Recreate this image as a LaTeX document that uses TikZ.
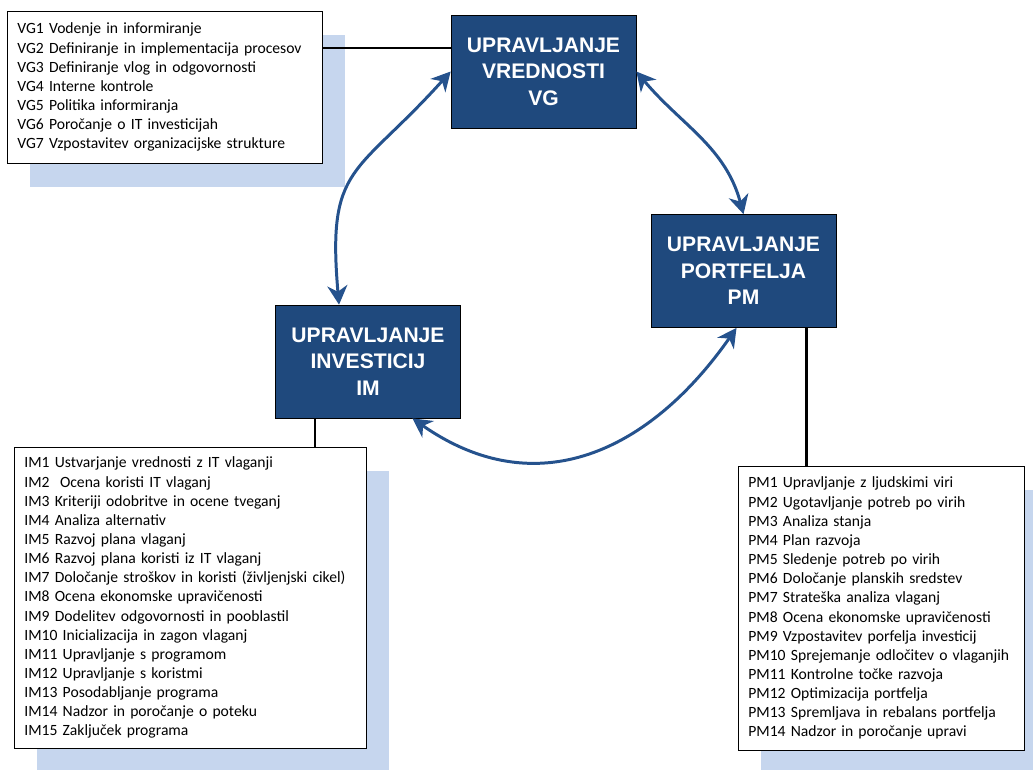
\documentclass[tikz,border=0pt]{standalone}
\usepackage{fontspec}
\setmainfont{Carlito}
\newfontfamily\boxfont{Liberation Sans}
\usepackage{tikz}
\usetikzlibrary{arrows.meta}
\usetikzlibrary{shadows}
\definecolor{boxblue}{RGB}{31,73,125}
\definecolor{arrowblue}{RGB}{37,82,141}
\definecolor{shadowblue}{RGB}{198,214,238}
\tikzset{phase/.style={draw=black, fill=boxblue, text=white, align=center,
    minimum width=3.7cm, minimum height=2.26cm, inner sep=0pt,
    font=\boxfont\bfseries\fontsize{12}{15}\selectfont}}
\tikzset{list/.style={draw=black, fill=white, align=left, anchor=north west,
    inner xsep=0.2cm, inner ysep=0pt, font=\fontsize{8.9}{10.9}\selectfont,
    drop shadow={shadow xshift=0.46cm, shadow yshift=-0.48cm,
    fill=shadowblue, opacity=1}}}
\tikzset{link/.style={draw=black, line width=1.6pt}}
\tikzset{cycle/.style={draw=arrowblue, line width=1.7pt,
    {Stealth[length=0.38cm,width=0.4cm,inset=0.12cm]}-{Stealth[length=0.38cm,width=0.4cm,inset=0.12cm]}}}

\begin{document}
\begin{tikzpicture}[x=0.02cm, y=-0.02cm]
        \useasboundingbox (0,0) rectangle (1033,769);

        \node[list, minimum width=6.3cm, minimum height=3.04cm, text width=5.9cm]
            (vglist) at (7,11) {VG1 Vodenje in informiranje\\
            VG2 Definiranje in implementacija procesov\\
            VG3 Definiranje vlog in odgovornosti\\
            VG4 Interne kontrole\\
            VG5 Politika informiranja\\
            VG6 Poročanje o IT investicijah\\
            VG7 Vzpostavitev organizacijske strukture};

        \node[list, minimum width=7.04cm, minimum height=6.02cm, text width=6.64cm]
            (imlist) at (14,447) {IM1 Ustvarjanje vrednosti z IT vlaganji\\
            IM2 \ Ocena koristi IT vlaganj\\
            IM3 Kriteriji odobritve in ocene tveganj\\
            IM4 Analiza alternativ\\
            IM5 Razvoj plana vlaganj\\
            IM6 Razvoj plana koristi iz IT vlaganj\\
            IM7 Določanje stroškov in koristi (življenjski cikel)\\
            IM8 Ocena ekonomske upravičenosti\\
            IM9 Dodelitev odgovornosti in pooblastil\\
            IM10 Inicializacija in zagon vlaganj\\
            IM11 Upravljanje s programom\\
            IM12 Upravljanje s koristmi\\
            IM13 Posodabljanje programa\\
            IM14 Nadzor in poročanje o poteku\\
            IM15 Zaključek programa};

        \node[list, minimum width=5.72cm, minimum height=5.68cm, text width=5.32cm]
            (pmlist) at (738,466) {PM1 Upravljanje z ljudskimi viri\\
            PM2 Ugotavljanje potreb po virih\\
            PM3 Analiza stanja\\
            PM4 Plan razvoja\\
            PM5 Sledenje potreb po virih\\
            PM6 Določanje planskih sredstev\\
            PM7 Strateška analiza vlaganj\\
            PM8 Ocena ekonomske upravičenosti\\
            PM9 Vzpostavitev porfelja investicij\\
            PM10 Sprejemanje odločitev o vlaganjih\\
            PM11 Kontrolne točke razvoja\\
            PM12 Optimizacija portfelja\\
            PM13 Spremljava in rebalans portfelja\\
            PM14 Nadzor in poročanje upravi};

        \node[phase] (vg) at (543.5,71.5) {UPRAVLJANJE\\VREDNOSTI\\VG};
        \node[phase] (pm) at (743.5,271) {UPRAVLJANJE\\PORTFELJA\\PM};
        \node[phase] (im) at (368,361.5) {UPRAVLJANJE\\INVESTICIJ\\IM};

        \draw[link] (vglist.14) -- (vglist.14 -| vg.west);
        \draw[link] (im.227) -- (im.227 |- imlist.north);
        \draw[link] (pm.-42) -- (pm.-42 |- pmlist.north);

        \draw[cycle] (vg.west) to[out=228, in=95, looseness=1.4] (im.117);
        \draw[cycle] (vg.east) to[out=-50, in=105] (pm.north);
        \draw[cycle] (im.-52) to[out=-35, in=235, looseness=1.15] (pm.263);
\end{tikzpicture}
\end{document}
